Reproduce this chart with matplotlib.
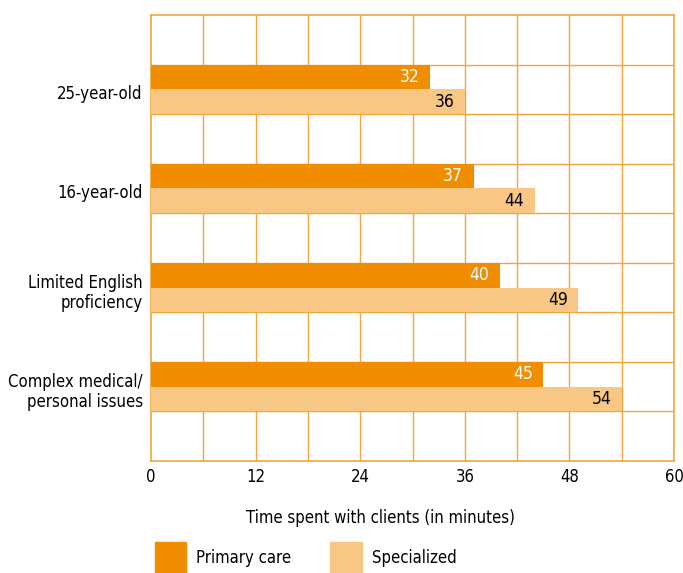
import numpy as np
import matplotlib
matplotlib.use("Agg")
from matplotlib import pyplot as plt
from matplotlib.patches import Rectangle

plt.rcParams['font.family'] = ['DejaVu Sans']
plt.rcParams['font.stretch'] = 'condensed'

# data
categories = ['25-year-old', '16-year-old', 'Limited English\nproficiency',
              'Complex medical/\npersonal issues']
primary = [32, 37, 40, 45]
specialized = [36, 44, 49, 54]
x_ticks = [0, 12, 24, 36, 48, 60]

c_primary = '#F18D00'
c_special = '#F8C784'
c_grid = '#F2A640'

fig = plt.figure(figsize=(6.83, 5.73), dpi=100)
ax = fig.add_axes([151 / 683, 112 / 573, 523 / 683, 446 / 573])

# each category sits in every other grid row
centers = np.arange(len(categories)) * 2 + 1.5
h = 0.5
ax.barh(centers - h / 2, primary, height=h, color=c_primary, zorder=3)
ax.barh(centers + h / 2, specialized, height=h, color=c_special, zorder=3)

for y, v in zip(centers, primary):
    ax.text(v - 1.2, y - h / 2, str(v), ha='right', va='center',
            color='white', fontsize=12.5, zorder=4)
for y, v in zip(centers, specialized):
    ax.text(v - 1.2, y + h / 2, str(v), ha='right', va='center',
            color='black', fontsize=12.5, zorder=4)

ax.set_xlim(0, 60)
ax.set_ylim(9, 0)
ax.set_xticks(x_ticks)
ax.set_yticks(centers + 0.05)
ax.set_yticklabels(categories, fontsize=12, linespacing=1.15)
ax.tick_params(axis='x', labelsize=12, length=0, pad=5)
ax.tick_params(axis='y', length=0, pad=6)

# grid: every 6 minutes, and one row line per half group
for gx in np.arange(6, 60, 6):
    ax.axvline(gx, color=c_grid, linewidth=1.0, zorder=1)
for gy in np.arange(1, 9):
    ax.axhline(gy, color=c_grid, linewidth=1.0, zorder=1)
for s in ax.spines.values():
    s.set_color(c_grid)
    s.set_linewidth(1.2)

fig.text(380 / 683, 1 - 518 / 573, 'Time spent with clients (in minutes)',
         ha='center', va='center', fontsize=12)

# legend
fig.add_artist(Rectangle((155 / 683, 0), 31 / 683, 31 / 573,
                         transform=fig.transFigure, color=c_primary))
fig.text(196 / 683, 1 - 558 / 573, 'Primary care', ha='left', va='center', fontsize=12)
fig.add_artist(Rectangle((330 / 683, 0), 32 / 683, 31 / 573,
                         transform=fig.transFigure, color=c_special))
fig.text(372 / 683, 1 - 558 / 573, 'Specialized', ha='left', va='center', fontsize=12)

fig.savefig('out.png', dpi=100)
